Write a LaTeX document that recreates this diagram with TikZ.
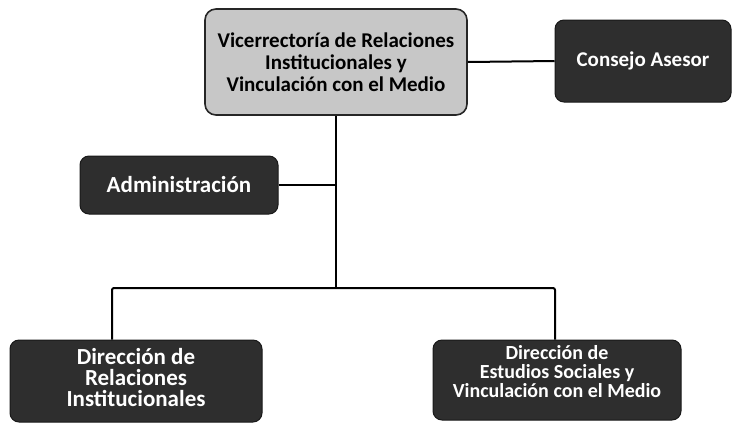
\documentclass[tikz,border=0pt]{standalone}
\usepackage{fontspec}
\setmainfont{Carlito}
\begin{document}
\begin{tikzpicture}[x=1pt,y=-1pt,
  darkbox/.style={draw=black!90,line width=1pt,fill=black!82,rounded corners=9pt,text=white,align=center,inner sep=0pt},
  lightbox/.style={draw=black!85,line width=1.6pt,fill=black!22,rounded corners=11pt,text=black,align=center,inner sep=0pt},
  boxtext/.style={text=white,align=center,inner sep=0pt},
  conn/.style={line width=2pt,draw=black}]
\useasboundingbox (0,0) rectangle (741,424);
\node[lightbox,minimum width=262pt,minimum height=106pt,font=\fontsize{21}{22}\selectfont\bfseries] (top) at (336,62)
  {Vicerrectoría de Relaciones\\ Institucionales y\\ Vinculación con el Medio};
\node[darkbox,minimum width=176pt,minimum height=82pt,font=\fontsize{21}{22}\selectfont\bfseries] (cons) at (643,61)
  {Consejo Asesor};
\node[darkbox,minimum width=198pt,minimum height=58pt,font=\fontsize{23}{22}\selectfont\bfseries] (adm) at (179,185)
  {Administración};
\node[darkbox,minimum width=252pt,minimum height=82pt] (dri) at (136,381) {};
\node[boxtext,font=\fontsize{23}{21}\selectfont\bfseries] (driT) at ([yshift=3pt]dri.center)
  {Dirección de\\ Relaciones\\ Institucionales};
\node[darkbox,minimum width=248pt,minimum height=80pt] (des) at (557,380) {};
\node[boxtext,font=\fontsize{20}{19}\selectfont\bfseries] (desT) at ([yshift=8pt]des.center)
  {Dirección de\\ Estudios Sociales y\\ Vinculación con el Medio};
\coordinate (jl) at (112,288);
\coordinate (jr) at (555,288);
\draw[conn] (top.east) -- (cons.west);
\draw[conn] (top.south) -- (top.south |- jl);
\draw[conn] (adm.east) -- (adm.east -| top.south);
\draw[conn,rounded corners=2pt] (dri.north -| jl) -- (jl) -- (jr) -- (des.north -| jr);
\end{tikzpicture}
\end{document}
